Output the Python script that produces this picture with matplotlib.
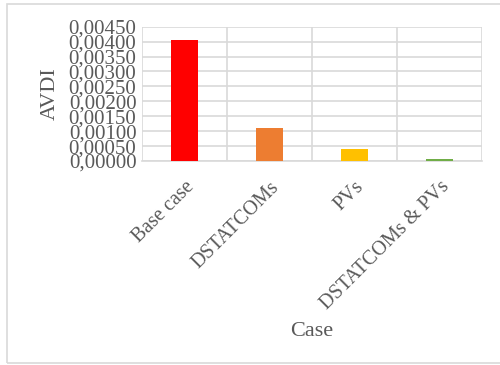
import matplotlib
matplotlib.use("Agg")
import matplotlib.pyplot as plt
from matplotlib.patches import Rectangle
from matplotlib.ticker import FixedLocator, FuncFormatter
import numpy as np

categories = ["Base case", "DSTATCOMs", "PVs", "DSTATCOMs & PVs"]
avdi = [0.00405, 0.00110, 0.00040, 0.00007]
colors = ["#FF0000", "#ED7D31", "#FFC000", "#70AD47"]
yticks = [0.0, 0.0005, 0.0010, 0.0015, 0.0020, 0.0025, 0.0030, 0.0035, 0.0040, 0.0045]

plt.rcParams['font.family'] = ['Liberation Serif', 'DejaVu Serif']
txt = "#595959"
grid = "#D9D9D9"

fig = plt.figure(figsize=(5.0, 3.65), dpi=100)
fig.patches.append(Rectangle((6.5/500, 1-363/365), 1.2, (363-3.5)/365,
                             transform=fig.transFigure, fill=False,
                             edgecolor=grid, linewidth=1.2))
ax = fig.add_axes([142/500, 1-161/365, 340/500, (161-26.7)/365])

x = np.arange(len(categories))
ax.bar(x, avdi, width=0.32, color=colors, zorder=3)

ax.set_xlim(-0.5, len(categories)-0.5)
ax.set_ylim(0, 0.0045)
ax.set_yticks(yticks)
ax.yaxis.set_major_formatter(FuncFormatter(lambda v, p: f"{v:.5f}".replace(".", ",")))
ax.set_xticks(x)
ax.set_xticklabels(categories, rotation=45, ha='right', rotation_mode='anchor')
ax.xaxis.set_minor_locator(FixedLocator(np.arange(-0.5, len(categories), 1.0)))
ax.tick_params(axis='both', which='both', length=0, colors=txt)
ax.tick_params(axis='x', labelsize=14.5, pad=12)
ax.tick_params(axis='y', labelsize=15, pad=4)
ax.grid(axis='y', which='major', color=grid, linewidth=1.2, zorder=0)
ax.grid(axis='x', which='minor', color=grid, linewidth=1.2, zorder=0)
for s in ax.spines.values():
    s.set_visible(False)
ax.spines['bottom'].set_visible(True)
ax.spines['bottom'].set_color(grid)
ax.spines['bottom'].set_linewidth(1.2)

ax.set_ylabel("AVDI", fontsize=16, color=txt, labelpad=6)
ax.set_xlabel("Case", fontsize=16, color=txt, labelpad=6)

fig.savefig("out.png", dpi=100)
